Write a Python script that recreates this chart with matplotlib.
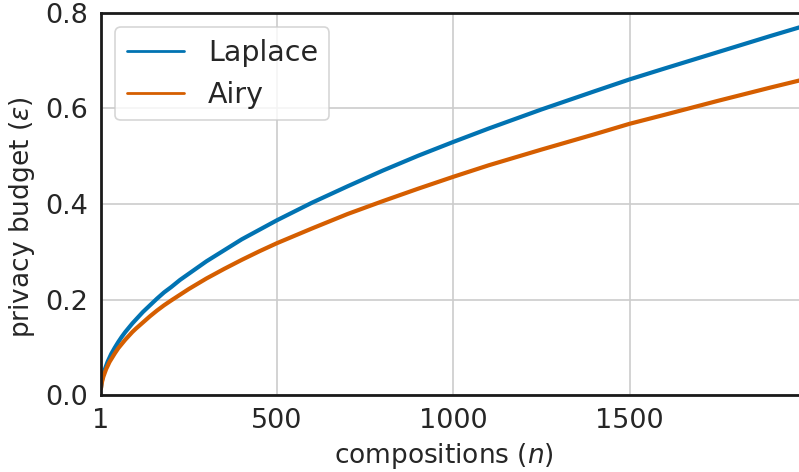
import matplotlib
matplotlib.use("Agg")
import matplotlib.pyplot as plt
from matplotlib.lines import Line2D
import seaborn as sns

# number of compositions and resulting privacy budget per mechanism
n_comp = [1, 2, 3, 5, 8, 12, 16, 20, 25, 30, 40, 50, 60, 70, 80, 90, 100,
          120, 140, 160, 180, 200, 225, 250, 275, 300, 350, 400, 450, 500,
          600, 700, 800, 900, 1000, 1100, 1250, 1400, 1500, 1600, 1750,
          1900, 2000]
eps_laplace = [0.015, 0.022, 0.027, 0.035, 0.044, 0.054, 0.062, 0.070,
               0.078, 0.086, 0.099, 0.111, 0.122, 0.132, 0.141, 0.150,
               0.158, 0.174, 0.188, 0.202, 0.215, 0.226, 0.241, 0.254,
               0.267, 0.280, 0.303, 0.326, 0.346, 0.366, 0.403, 0.437,
               0.470, 0.501, 0.530, 0.558, 0.598, 0.636, 0.661, 0.684,
               0.718, 0.752, 0.774]
eps_airy = [0.014, 0.019, 0.024, 0.031, 0.039, 0.047, 0.055, 0.061, 0.069,
            0.075, 0.087, 0.098, 0.107, 0.116, 0.124, 0.132, 0.139, 0.152,
            0.165, 0.177, 0.188, 0.198, 0.210, 0.222, 0.233, 0.244, 0.264,
            0.283, 0.301, 0.318, 0.349, 0.379, 0.406, 0.432, 0.457, 0.481,
            0.514, 0.546, 0.568, 0.587, 0.616, 0.644, 0.662]

x_ticks = [1, 500, 1000, 1500]
y_ticks = [0.0, 0.2, 0.4, 0.6, 0.8]

sns.set_style("whitegrid")
plt.rcParams['font.family'] = ['DejaVu Sans']

c_lap = '#0173b2'
c_airy = '#d55e00'

fig = plt.figure(figsize=(7.99, 4.72), dpi=100)
ax = fig.add_axes([0.1264, 0.1631, 0.8824, 0.8094])

ax.plot(n_comp, eps_laplace, color=c_lap, lw=3)
ax.plot(n_comp, eps_airy, color=c_airy, lw=3)

ax.set_xlim(1, 2000)
ax.set_ylim(0, 0.8)
ax.set_xticks(x_ticks)
ax.set_yticks(y_ticks)
ax.set_xticklabels([str(t) for t in x_ticks])
ax.set_yticklabels([f'{t:.1f}' for t in y_ticks])
ax.tick_params(axis='both', length=0, labelsize=19.5, colors='#262626')
ax.tick_params(axis='x', pad=9)
ax.tick_params(axis='y', pad=9)

ax.set_xlabel(r'compositions ($n$)', fontsize=19, color='#262626', labelpad=5.5)
ax.set_ylabel(r'privacy budget ($\varepsilon$)', fontsize=19, color='#262626', labelpad=6)
ax.xaxis.label.set_x(0.486)
ax.yaxis.label.set_y(0.465)

ax.grid(True, color='#cccccc', lw=1.2)
for side in ['left', 'bottom', 'top', 'right']:
    ax.spines[side].set_color('#1a1a1a')
    ax.spines[side].set_linewidth(2)

handles = [Line2D([], [], color=c_lap, lw=2), Line2D([], [], color=c_airy, lw=2)]
leg = ax.legend(handles, ['Laplace', 'Airy'], loc='upper left', fontsize=20.5,
                frameon=True, fancybox=True, borderaxespad=0.5,
                handletextpad=0.85)
leg.get_frame().set_edgecolor('#cccccc')
leg.get_frame().set_linewidth(1.2)

plt.savefig('out.png', dpi=100)
